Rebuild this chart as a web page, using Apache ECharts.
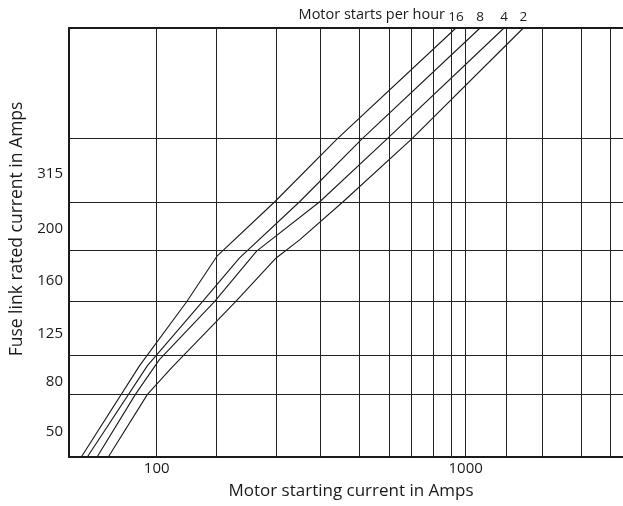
<!DOCTYPE html>
<html>
<head>
<meta charset="utf-8">
<script src="https://cdn.jsdelivr.net/npm/echarts@6/dist/echarts.min.js"></script>
<style>
  html, body { margin: 0; padding: 0; background: #fff; }
  #chart { width: 623px; height: 506px; }
</style>
</head>
<body>
<div id="chart"></div>
<script>
// x: motor starting current in amps (log scale)
// y: position on the fuse-rating scale, 0 = bottom of chart, 100 = top
const xGridLines = [100, 156, 244, 338, 453, 567, 667, 783, 901, 1000, 1351, 1768, 2365, 2948];
const xLabels = [100, 1000];
const yGridLines = [14.6, 23.8, 36.2, 48.1, 59.4, 74.2];
const yLabelPos = [5.8, 17.5, 28.7, 41.0, 53.1, 66.1];
const yLabels = ['50', '80', '125', '160', '200', '315'];

const startsPerHour = ['16', '8', '4', '2'];
const curve16X = [57, 88, 125, 157, 241, 383, 930];
const curve16Y = [0, 21.3, 36.2, 46.9, 59.5, 74.1, 100];
const curve8X = [59.6, 93.3, 140.6, 185.4, 290, 461, 1113];
const curve8Y = [0, 21.3, 36.2, 46.4, 59.5, 74.1, 100];
const curve4X = [64.1, 85.3, 102, 153.8, 210.5, 337, 555.5, 1331];
const curve4Y = [0, 14.6, 22.7, 36.2, 48.0, 59.5, 74.1, 100];
const curve2X = [69.7, 93.3, 111.6, 180, 243.5, 290, 401, 668, 1537];
const curve2Y = [0, 14.6, 20.8, 36.2, 46.4, 50.6, 59.5, 74.1, 100];

const font = 'Open Sans';
const ink = '#1a1a1a';

function makeSeries (name, xs, ys) {
  let data = xs.map((x, i) => [x, ys[i]]);
  let last = data.length - 1;
  // the starts-per-hour number sits above the top end of each curve
  data[last] = { value: data[last], label: { show: true, position: 'top', distance: 4, formatter: name } };
  return {
    name: name,
    type: 'line',
    data: data,
    symbol: 'circle',
    symbolSize: 0,
    showSymbol: true,
    silent: true,
    lineStyle: { color: ink, width: 1.1 },
    itemStyle: { color: ink },
    label: { show: false, color: ink, fontSize: 13.5, fontFamily: font },
    z: 3
  };
}

let series = [
  makeSeries(startsPerHour[0], curve16X, curve16Y),
  makeSeries(startsPerHour[1], curve8X, curve8Y),
  makeSeries(startsPerHour[2], curve4X, curve4Y),
  makeSeries(startsPerHour[3], curve2X, curve2Y)
];

// grid lines of the chart
series[0].markLine = {
  silent: true,
  symbol: ['none', 'none'],
  label: { show: false },
  lineStyle: { color: '#222', width: 1, type: 'solid' },
  data: xGridLines.map(v => ({ xAxis: v })).concat(yGridLines.map(v => ({ yAxis: v })))
};

let chart = echarts.init(document.getElementById('chart'));
chart.setOption({
  animation: false,
  backgroundColor: '#fff',
  title: {
    text: 'Motor starts per hour',
    right: 178,
    top: 7,
    padding: 0,
    textStyle: { fontSize: 14.5, fontWeight: 'normal', color: ink, fontFamily: font }
  },
  grid: { left: 69, right: 0, top: 28, bottom: 49 },
  xAxis: [{
    type: 'log',
    logBase: 10,
    min: 52,
    max: 3230,
    axisLine: { show: true, onZero: false, lineStyle: { color: ink, width: 2 } },
    axisTick: { show: false },
    splitLine: { show: false },
    axisLabel: {
      customValues: xLabels,
      formatter: v => String(Math.round(v)),
      color: ink, fontSize: 15, fontFamily: font, margin: 4
    },
    name: 'Motor starting current in Amps',
    nameLocation: 'middle',
    nameGap: 26,
    nameTextStyle: { color: ink, fontSize: 17, fontFamily: font, padding: [0, 0, 0, 10] }
  }, {
    type: 'log',
    logBase: 10,
    position: 'top',
    min: 52,
    max: 3230,
    axisLine: { show: true, onZero: false, lineStyle: { color: ink, width: 2 } },
    axisTick: { show: false },
    axisLabel: { show: false },
    splitLine: { show: false }
  }],
  yAxis: {
    type: 'value',
    min: 0,
    max: 100,
    axisLine: { show: true, onZero: false, lineStyle: { color: ink, width: 2 } },
    axisTick: { show: false },
    splitLine: { show: false },
    axisLabel: {
      customValues: yLabelPos,
      formatter: v => yLabels[yLabelPos.indexOf(v)],
      color: ink, fontSize: 15, fontFamily: font, margin: 6
    },
    name: 'Fuse link rated current in Amps',
    nameLocation: 'middle',
    nameGap: 41,
    nameRotate: 90,
    nameTextStyle: { color: ink, fontSize: 17.5, fontFamily: font, padding: [0, 0, 0, 27] }
  },
  series: series
});
</script>
</body>
</html>
